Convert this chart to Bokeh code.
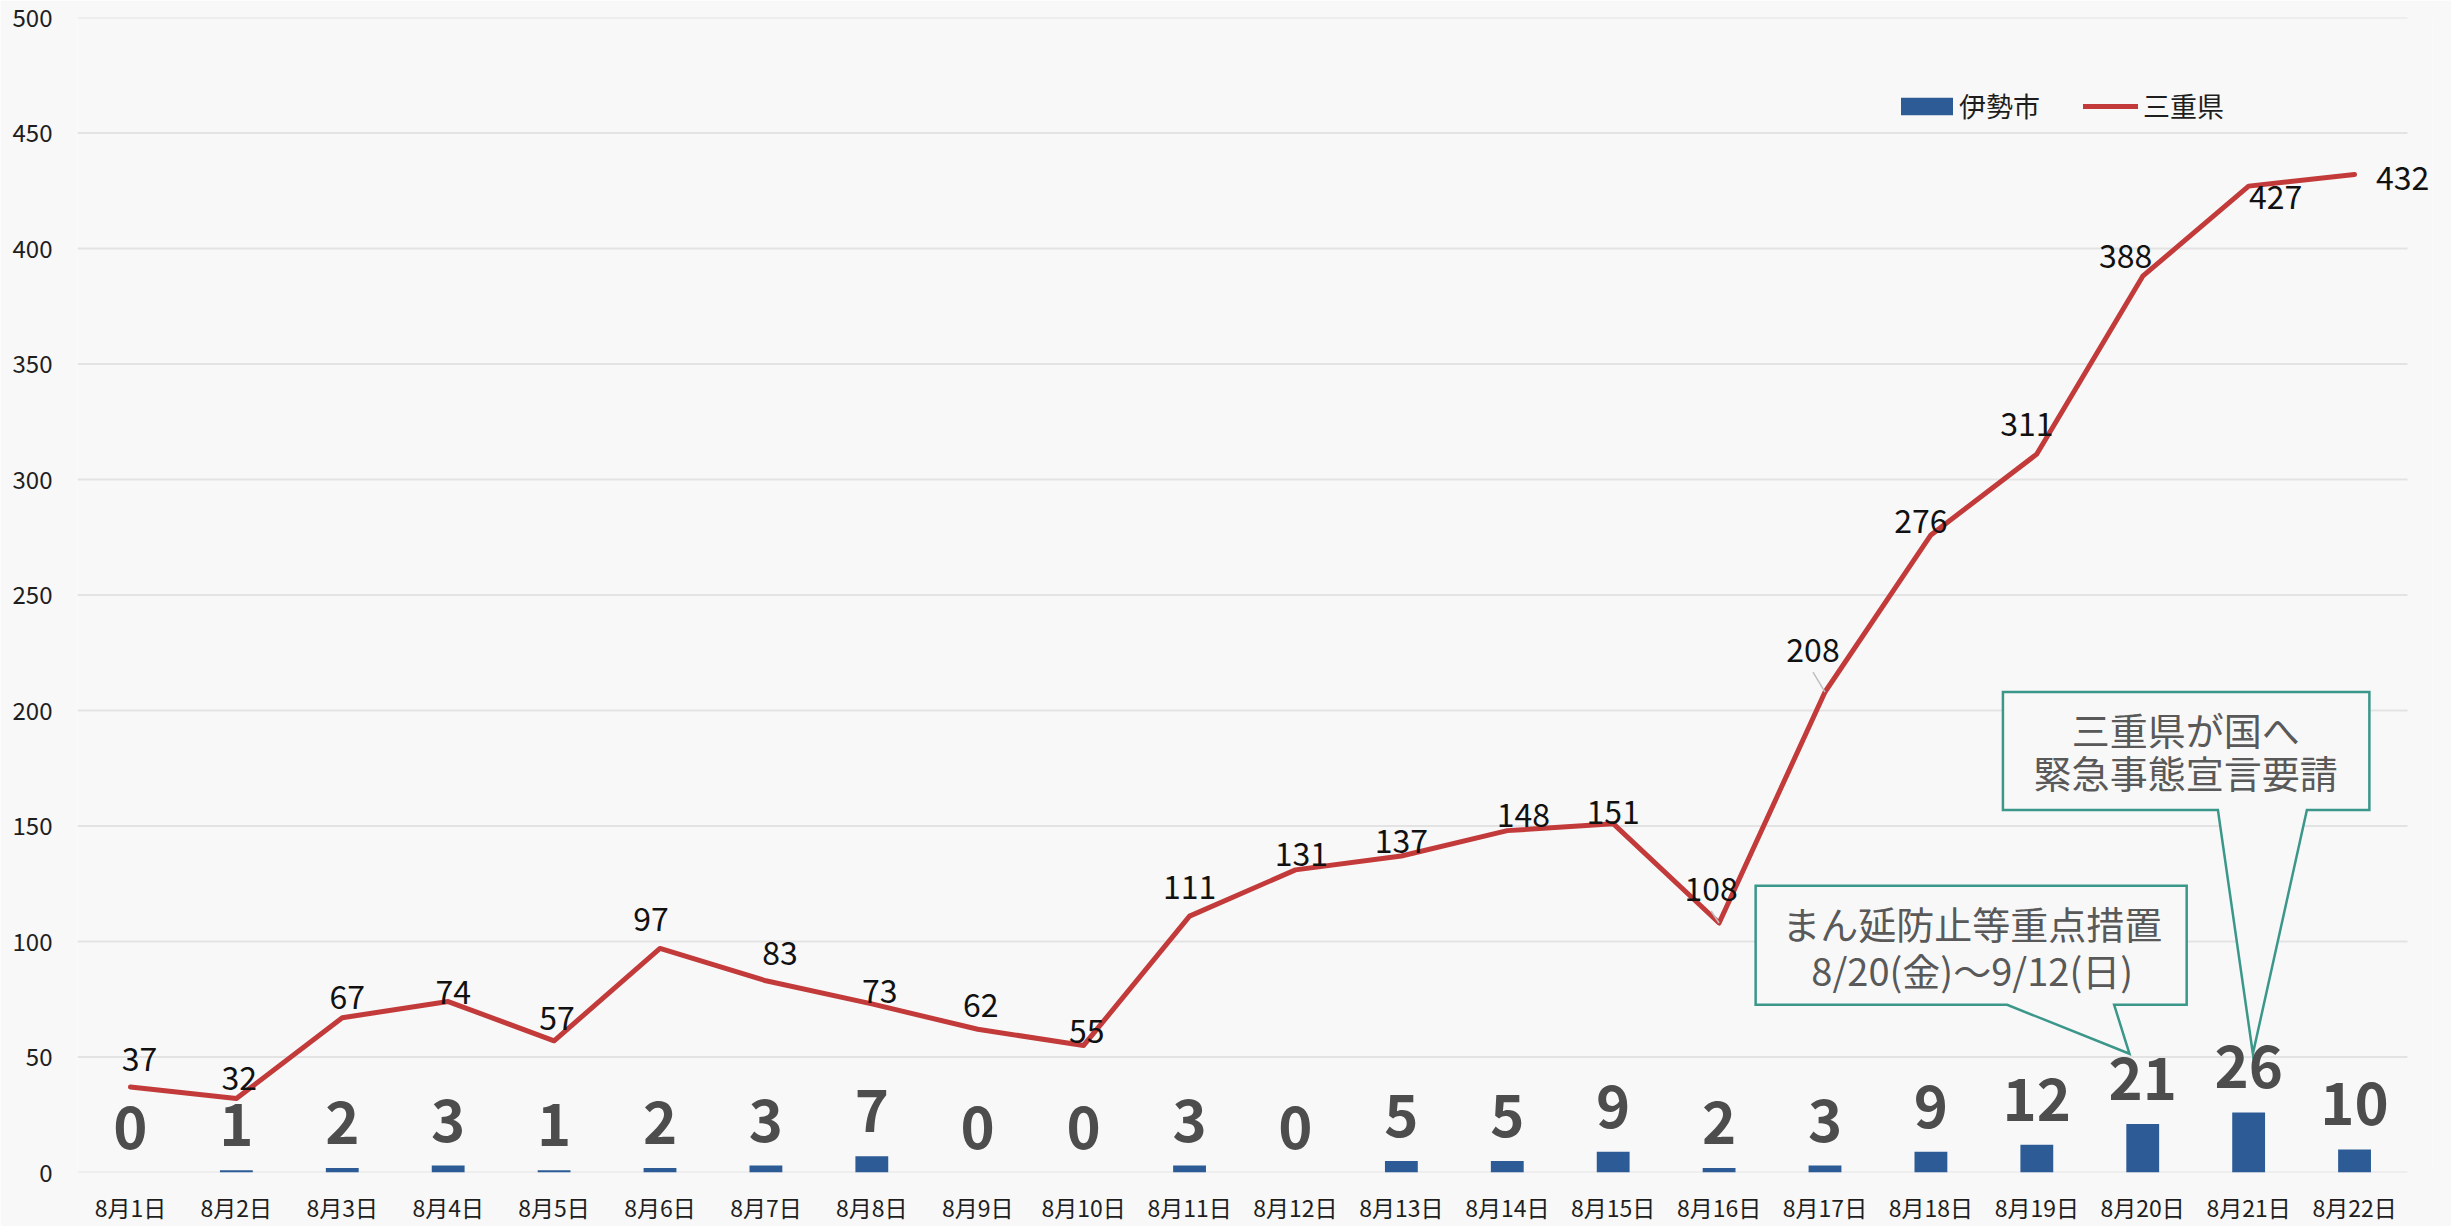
from bokeh.plotting import figure
from bokeh.models import (ColumnDataSource, Range1d, FixedTicker,
                          Legend, LegendItem, LabelSet)
from bokeh.core.properties import value
from bokeh.embed import file_html
from bokeh.resources import INLINE

# ---------------- data ----------------
days = ["8月1日", "8月2日", "8月3日", "8月4日", "8月5日", "8月6日", "8月7日",
        "8月8日", "8月9日", "8月10日", "8月11日", "8月12日", "8月13日", "8月14日",
        "8月15日", "8月16日", "8月17日", "8月18日", "8月19日", "8月20日",
        "8月21日", "8月22日"]
ise = [0, 1, 2, 3, 1, 2, 3, 7, 0, 0, 3, 0, 5, 5, 9, 2, 3, 9, 12, 21, 26, 10]
mie = [37, 32, 67, 74, 57, 97, 83, 73, 62, 55, 111, 131, 137, 148, 151, 108,
       208, 276, 311, 388, 427, 432]
y_ticks = [0, 50, 100, 150, 200, 250, 300, 350, 400, 450, 500]
series_names = ["伊勢市", "三重県"]
callout1_lines = ["まん延防止等重点措置", "8/20(金)～9/12(日)"]
callout2_lines = ["三重県が国へ", "緊急事態宣言要請"]

# ---------------- layout / style ----------------
FONT = "Noto Sans CJK JP"
BG = "#F8F8F8"
BAR_C = "#2D5B96"
LINE_C = "#C23B3A"
BOX_C = "#3A978A"
W, H = 2451, 1226
BL, BR, BT, BB = 77, 19, 17, 54
FW, FH = W - BL - BR, H - BT - BB
N = len(days)
X_END = N + 0.236          # a little room right of the last day for its label
PX_X = FW / X_END
PX_Y = FH / 500.0

xs = [i + 0.5 for i in range(N)]

# label offsets for the line values (screen px, right / up)
lab_dx = [9, 3, 5, 5, 3, -9, 14, 8, 3, 3, 0, 6, 0, 16, 0, -8, -12, -10, -10, -17, 27, 48]
lab_dy = [28, 21, 21, 10, 23, 29, 28, 13, 24, 14, 29, 16, 15, 16, 12, 34, 42, 14, 30, 20, -11, -3]

src = ColumnDataSource(dict(x=xs, day=days, ise=ise, mie=mie,
                            ise_t=[str(v) for v in ise],
                            mie_t=[str(v) for v in mie],
                            dx=lab_dx, dy=lab_dy))

p = figure(width=W, height=H,
           x_range=Range1d(0, X_END), y_range=Range1d(0, 500),
           output_backend="svg", toolbar_location=None,
           min_border_left=BL, min_border_right=BR,
           min_border_top=BT, min_border_bottom=BB,
           background_fill_color=BG, border_fill_color=BG)
p.outline_line_color = None

# axes
p.yaxis.ticker = FixedTicker(ticks=y_ticks)
p.xaxis.ticker = FixedTicker(ticks=xs)
p.xaxis.major_label_overrides = {x: d for x, d in zip(xs, days)}
p.xgrid.grid_line_color = None
p.ygrid.grid_line_color = None
for ax in (p.xaxis, p.yaxis):
    ax.axis_line_color = None
    ax.major_tick_line_color = None
    ax.minor_tick_line_color = None
    ax.major_tick_out = 0
    ax.major_tick_in = 0
    ax.minor_tick_out = 0
    ax.major_label_text_font = FONT
    ax.major_label_text_color = "#1E1E1E"
p.yaxis.major_label_text_font_size = "24px"
p.xaxis.major_label_text_font_size = "23px"
p.yaxis.major_label_standoff = 25
p.xaxis.major_label_standoff = 17

# horizontal grid lines over the category span
p.segment(x0=[0] * len(y_ticks), x1=[N] * len(y_ticks), y0=y_ticks, y1=y_ticks,
          line_color="#E3E3E3", line_width=2)

# bars and line
r_bar = p.vbar(x="x", top="ise", width=0.31, source=src,
               fill_color=BAR_C, line_color=None)
r_line = p.line(x="x", y="mie", source=src, line_color=LINE_C,
                line_width=5, line_join="round", line_cap="round")

# leader lines for two labels
for i in (15, 16):
    p.segment(x0=[xs[i] + lab_dx[i] / PX_X], y0=[mie[i] + (lab_dy[i] - 22) / PX_Y],
              x1=[xs[i]], y1=[mie[i]], line_color="#BFBFBF", line_width=1.5)

# value labels
p.add_layout(LabelSet(x="x", y="mie", text="mie_t", source=src,
                      x_offset="dx", y_offset="dy",
                      text_align="center", text_baseline="middle",
                      text_font=value(FONT), text_font_size="32px",
                      text_color="#111111"))
p.add_layout(LabelSet(x="x", y="ise", text="ise_t", source=src,
                      y_offset=24, text_align="center", text_baseline="alphabetic",
                      text_font=value(FONT), text_font_size="58px",
                      text_font_style="bold", text_color="#4D4D4D"))

# callouts
def callout(left, right, top, bottom, b0, b1, tipx, tipy, cx, ly, lines):
    px = [left, right, right, b1, tipx, b0, left]
    py = [top, top, bottom, bottom, tipy, bottom, bottom]
    p.patch(px, py, fill_color=BG, line_color=BOX_C, line_width=2.5,
            line_join="miter")
    for t, yy in zip(lines, ly):
        p.text(x=[cx], y=[yy], text=[t], text_align="center",
               text_baseline="middle", text_font=value(FONT),
               text_font_size="38px", text_color="#595959")

callout(15.845, 19.915, 124.1, 72.6, 18.22, 19.23, 19.375, 51.4,
        17.89, [108.1, 87.8], callout1_lines)
callout(18.18, 21.64, 208.0, 156.9, 20.21, 21.05, 20.54, 51.4,
        19.905, [192.4, 173.4], callout2_lines)

# legends
leg1 = Legend(items=[LegendItem(label=series_names[0], renderers=[r_bar])],
              location=(1817, 1047), orientation="horizontal",
              glyph_width=65, glyph_height=22, label_standoff=0,
              padding=0, margin=0, border_line_color=None,
              background_fill_alpha=0,
              label_text_font=FONT, label_text_font_size="27px",
              label_text_color="#1E1E1E")
leg2 = Legend(items=[LegendItem(label=series_names[1], renderers=[r_line])],
              location=(2006, 1047), orientation="horizontal",
              glyph_width=55, glyph_height=22, label_standoff=5,
              padding=0, margin=0, border_line_color=None,
              background_fill_alpha=0,
              label_text_font=FONT, label_text_font_size="27px",
              label_text_color="#1E1E1E")
p.add_layout(leg1)
p.add_layout(leg2)

html = file_html(p, INLINE)
html = html.replace("<body>", '<body style="background-color:%s;">' % BG, 1)
open("out.html", "w").write(html)
